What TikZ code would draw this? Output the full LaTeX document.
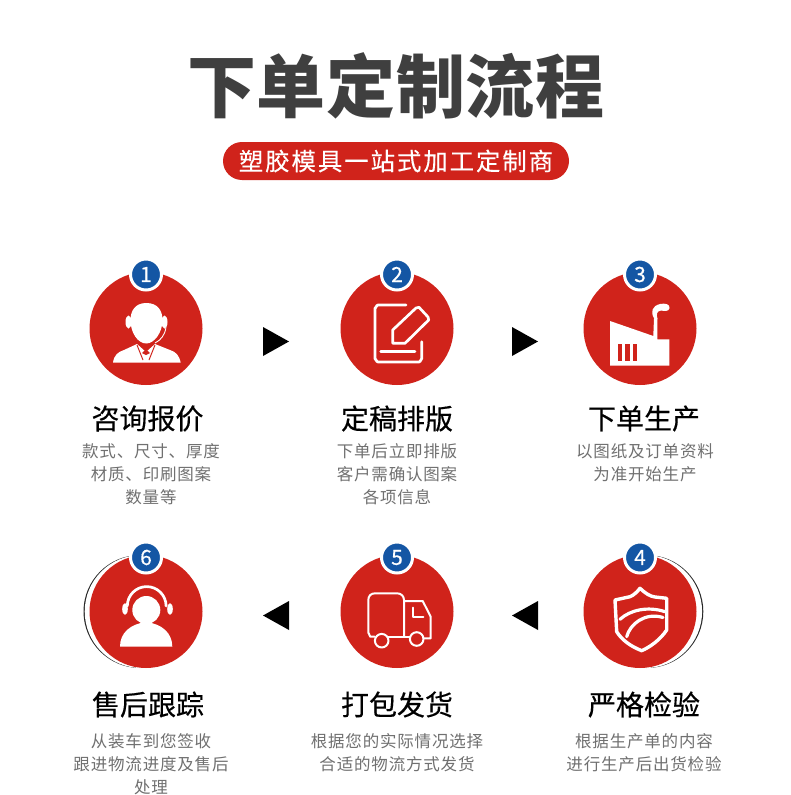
\documentclass[tikz,border=0pt]{standalone}
\usepackage{fontspec}
\setmainfont{Noto Sans CJK SC}
\definecolor{stepred}{HTML}{D0231B}
\definecolor{stepblue}{HTML}{1456A4}
\definecolor{titlegray}{HTML}{3F3F3F}
\definecolor{notegray}{HTML}{707070}

\begin{document}
\begin{tikzpicture}[x=1pt, y=-1pt,
		mainhead/.style={text=titlegray, inner sep=0pt, font=\fontsize{69}{69}\bfseries\addfontfeature{LetterSpace=1}},
		subpill/.style={fill=stepred, text=white, rounded corners=19pt, minimum width=346pt, minimum height=38pt, inner sep=0pt, font=\fontsize{24.4}{24}\selectfont\addfontfeature{LetterSpace=8,FakeBold=0.3}},
		stepdisc/.style={circle, fill=stepred, minimum size=113pt, inner sep=0pt},
		stepbadge/.style={circle, fill=stepblue, draw=white, line width=3pt, minimum size=31pt, inner sep=0pt, text=white, font=\fontsize{21}{21}\selectfont\addfontfeature{FakeBold=0.5}},
		steptitle/.style={inner sep=0pt, text=black, font=\fontsize{28}{28}\selectfont\addfontfeature{FakeBold=0.4}},
		stepnote/.style={inner sep=0pt, anchor=north, align=center, text=notegray, font=\fontsize{16.5}{23}\selectfont\addfontfeature{LetterSpace=5}},
		iconline/.style={draw=white, line width=2.7pt, line join=round, line cap=round},
		iconfill/.style={fill=white},
	]
	\useasboundingbox (0,0) rectangle (790,795);
	\fill[white] (0,0) rectangle (790,795);

	\node[mainhead] (head) at (396,86) {下单定制流程};
	\node[subpill] (pill) at (396,161) {塑胶模具一站式加工定制商};

	\fill[black!85] (140,611.5) circle (56.5);
	\fill[white] (141.2,611.5) circle (56.5);
	\fill[black!85] (646.8,611.5) circle (56.5);
	\fill[white] (645.6,611.5) circle (56.5);

	\node[stepdisc] (disc1) at (146,328.5) {};
	\node[stepdisc] (disc2) at (397,328.5) {};
	\node[stepdisc] (disc3) at (640,328.5) {};
	\node[stepdisc] (disc4) at (640,611.5) {};
	\node[stepdisc] (disc5) at (397,611.5) {};
	\node[stepdisc] (disc6) at (146,611.5) {};

	\node[stepbadge] (badge1) at (146,274.5) {1};
	\node[stepbadge] (badge2) at (397,274.5) {2};
	\node[stepbadge] (badge3) at (640,274.5) {3};
	\node[stepbadge] (badge4) at (640,557.5) {4};
	\node[stepbadge] (badge5) at (397,557.5) {5};
	\node[stepbadge] (badge6) at (146,557.5) {6};

	\fill (263,327) -- (289,341.5) -- (263,356) -- cycle;
	\fill (512,327) -- (538,341.5) -- (512,356) -- cycle;
	\fill (538,601) -- (512,615.5) -- (538,630) -- cycle;
	\fill (289,601) -- (263,615.5) -- (289,630) -- cycle;

	% person with headset
	\fill[iconfill] (113,362.7) .. controls (114,355) and (118,352) .. (124,350) -- (137,344) -- (146,352) -- (155,344) -- (170,350) .. controls (176,352) and (179,355) .. (180.7,362.7) -- cycle;
	\draw[stepred, line width=1pt] (137,345) -- (143,360);
	\draw[stepred, line width=1pt] (155,345) -- (149,360);
	\fill[stepred] (146,349) -- (150,353) -- (146,355) -- (142,353) -- cycle;
	\fill[iconfill] (146.3,303) .. controls (158,303) and (162.5,311) .. (162.5,320) .. controls (162.5,333) and (154,343.5) .. (146.3,343.5) .. controls (138,343.5) and (130.5,333) .. (130.5,320) .. controls (130.5,311) and (135,303) .. (146.3,303) -- cycle;
	\fill[iconfill] (128.5,322) ellipse (3 and 6.5);
	\fill[iconfill] (164.5,322) ellipse (3 and 6.5);
	\draw[white, line width=0.9pt] (166,327) .. controls (165,335) and (161,340) .. (155,343);

	% form with pencil
	\draw[iconline] (406,305) -- (378,305) to[out=180, in=-90] (375,308) -- (375,359) to[out=90, in=180] (378,362) -- (419,362) to[out=0, in=90] (421.7,359) -- (421.7,341.7);
	\draw[iconline] (380.7,351.7) -- (415,351.7);
	\draw[iconline] (392.7,343.3) -- (392.7,330) -- (416,308) -- (419,307.3) -- (428,317) -- (428.7,320) -- (405,343.3) -- cycle;

	% factory
	\fill[iconfill] (610,321) -- (610,365.7) -- (669.3,365.7) -- (669.3,339.3) -- (657.3,339.3) -- (657.3,318.3) -- (654,318.3) -- (653.3,336) -- cycle;
	\fill[stepred] (617.7,344) rectangle (622.3,361);
	\fill[stepred] (625,344) rectangle (629.7,361);
	\fill[stepred] (632.7,344) rectangle (637.3,361);
	\fill[iconfill] (654.5,319) .. controls (650,312) and (652,306) .. (660,304) .. controls (665,303) and (670,304) .. (669.5,308) .. controls (669,312) and (664,311) .. (661,310.5) .. controls (657,311) and (656,314) .. (657.5,319) -- cycle;

	% shield
	\draw[iconline, line width=3.4pt] (640,588.3) .. controls (645,593) and (650,596.5) .. (655,597) -- (666.7,598.3) -- (666.7,630) .. controls (660,640) and (650,647) .. (641.7,650.7) .. controls (630,646) and (622,640) .. (616.7,631.7) -- (615,600) -- (630,596.7) .. controls (634,595) and (637,592) .. (640,588.3) -- cycle;
	\draw[iconline, line width=3.2pt] (620,619.3) .. controls (630,610) and (648,606) .. (665,611.7);
	\draw[iconline, line width=3.2pt] (626.7,636.7) .. controls (630,624) and (645,612) .. (663,617.5);

	% truck
	\draw[iconline, line width=2pt] (374.7,636.7) -- (370.5,636.7) to[out=-90, in=90] (368.3,633) -- (368.3,600) .. controls (368.3,596) and (371,593.3) .. (375,593.3) -- (397,593.3) .. controls (401,593.3) and (404,596) .. (404,600) -- (404,636.7);
	\draw[iconline, line width=2pt] (388.3,636.7) -- (410,636.7);
	\draw[iconline, line width=2pt] (404,601) -- (422.7,601) -- (430.7,616.7) -- (430.7,638.3) -- (423.5,638.3);
	\draw[iconline, line width=2pt] (413.3,607.7) -- (413.3,616.7) -- (423.3,616.7);
	\draw[iconline, line width=2pt] (381.7,640.7) circle (6.8);
	\draw[iconline, line width=2pt] (416.7,639) circle (6.8);

	% agent with headphones
	\fill[iconfill] (146.3,610) circle (14);
	\fill[iconfill] (120,646.7) .. controls (120,633) and (130,624) .. (146.3,622) .. controls (162,624) and (172.3,633) .. (172.3,646.7) -- cycle;
	\draw[iconline] (127.3,606) arc[start angle=180, end angle=360, radius=19.4];
	\fill[iconfill] (125,609) ellipse (2.8 and 5.8);
	\fill[iconfill] (170,609) ellipse (2.8 and 5.8);

	\node[steptitle] (title1) at (147.5,418.5) {咨询报价};
	\node[steptitle] (title2) at (397,418.5) {定稿排版};
	\node[steptitle] (title3) at (644,418.5) {下单生产};
	\node[steptitle] (title4) at (644,704.5) {严格检验};
	\node[steptitle] (title5) at (397,704.5) {打包发货};
	\node[steptitle] (title6) at (148,704.5) {售后跟踪};

	\node[stepnote] (note1) at (151,443) {款式、尺寸、厚度\\材质、印刷图案\\数量等};
	\node[stepnote] (note2) at (397,443) {下单后立即排版\\客户需确认图案\\各项信息};
	\node[stepnote] (note3) at (645,443) {以图纸及订单资料\\为准开始生产};
	\node[stepnote] (note4) at (644,733.5) {根据生产单的内容\\进行生产后出货检验};
	\node[stepnote] (note5) at (397,733.5) {根据您的实际情况选择\\合适的物流方式发货};
	\node[stepnote] (note6) at (151,733.5) {从装车到您签收\\跟进物流进度及售后\\处理};
\end{tikzpicture}
\end{document}
